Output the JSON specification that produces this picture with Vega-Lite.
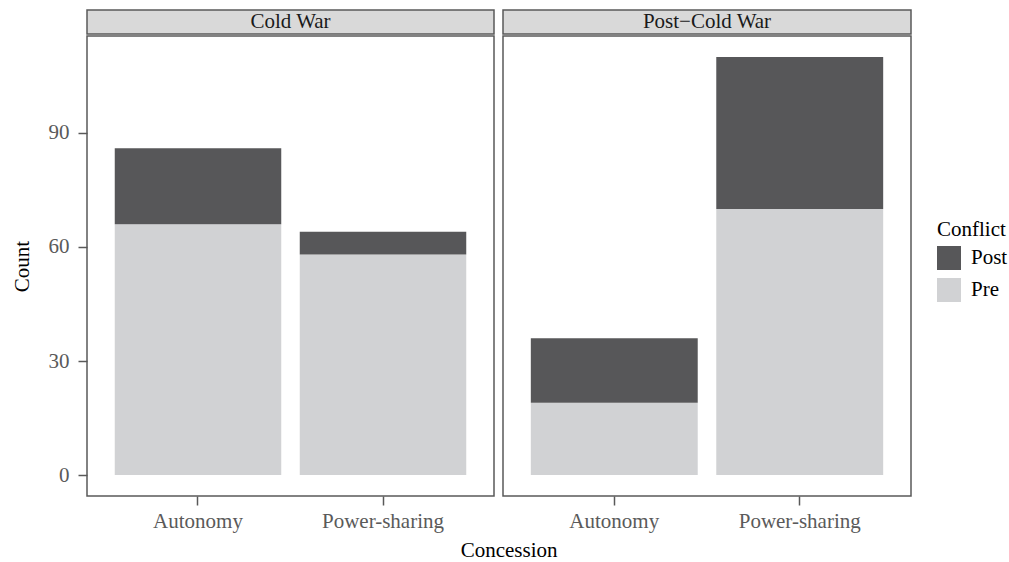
{
  "$schema": "https://vega.github.io/schema/vega-lite/v6.json",
  "padding": {"left": 10, "top": 9, "right": 5, "bottom": 5},
  "background": "white",
  "datasets": {
    "counts": [
      {"Era": "Cold War", "Concession": "Autonomy", "Conflict": "Pre", "Count": 66},
      {"Era": "Cold War", "Concession": "Autonomy", "Conflict": "Post", "Count": 20},
      {"Era": "Cold War", "Concession": "Power-sharing", "Conflict": "Pre", "Count": 58},
      {"Era": "Cold War", "Concession": "Power-sharing", "Conflict": "Post", "Count": 6},
      {"Era": "Post−Cold War", "Concession": "Autonomy", "Conflict": "Pre", "Count": 19},
      {"Era": "Post−Cold War", "Concession": "Autonomy", "Conflict": "Post", "Count": 17},
      {"Era": "Post−Cold War", "Concession": "Power-sharing", "Conflict": "Pre", "Count": 70},
      {"Era": "Post−Cold War", "Concession": "Power-sharing", "Conflict": "Post", "Count": 40}
    ]
  },
  "title": {"text": "Concession", "orient": "bottom", "anchor": "middle", "fontSize": 21, "font": "Liberation Serif", "fontWeight": "normal", "color": "#000000", "offset": 8},
  "hconcat": [
    {
      "spacing": 0,
      "vconcat": [
        {
          "width": 407, "height": 24,
          "data": {"values": [{"label": "Cold War"}]},
          "view": {"fill": "#d9d9d9", "stroke": "#595959", "strokeWidth": 1.5},
          "mark": {"type": "text", "font": "Liberation Serif", "fontSize": 21, "color": "#1a1a1a", "baseline": "middle", "align": "center"},
          "encoding": {"text": {"field": "label"}}
        },
        {
          "width": 407, "height": 460,
          "data": {"name": "counts"},
          "transform": [{"filter": "datum.Era === 'Cold War'"}],
          "view": {"stroke": "#595959", "strokeWidth": 1.5},
          "mark": {"type": "bar"},
          "encoding": {
            "x": {"field": "Concession", "type": "nominal", "scale": {"paddingInner": 0.1, "paddingOuter": 0.15}, "axis": {"title": null}},
            "y": {"field": "Count", "type": "quantitative", "stack": "zero", "scale": {"domain": [-5.5, 115.5], "nice": false, "zero": false}, "axis": {"title": "Count", "values": [0, 30, 60, 90]}},
            "color": {"field": "Conflict", "type": "nominal", "scale": {"domain": ["Post", "Pre"], "range": ["#575759", "#d1d2d4"]}, "legend": {"title": "Conflict"}},
            "order": {"field": "Conflict", "sort": "descending"}
          }
        }
      ]
    },
    {
      "spacing": 0,
      "vconcat": [
        {
          "width": 408, "height": 24,
          "data": {"values": [{"label": "Post−Cold War"}]},
          "view": {"fill": "#d9d9d9", "stroke": "#595959", "strokeWidth": 1.5},
          "mark": {"type": "text", "font": "Liberation Serif", "fontSize": 21, "color": "#1a1a1a", "baseline": "middle", "align": "center"},
          "encoding": {"text": {"field": "label"}}
        },
        {
          "width": 408, "height": 460,
          "data": {"name": "counts"},
          "transform": [{"filter": "datum.Era === 'Post−Cold War'"}],
          "view": {"stroke": "#595959", "strokeWidth": 1.5},
          "mark": {"type": "bar"},
          "encoding": {
            "x": {"field": "Concession", "type": "nominal", "scale": {"paddingInner": 0.1, "paddingOuter": 0.15}, "axis": {"title": null}},
            "y": {"field": "Count", "type": "quantitative", "stack": "zero", "scale": {"domain": [-5.5, 115.5], "nice": false, "zero": false}, "axis": null},
            "color": {"field": "Conflict", "type": "nominal", "scale": {"domain": ["Post", "Pre"], "range": ["#575759", "#d1d2d4"]}, "legend": {"title": "Conflict"}},
            "order": {"field": "Conflict", "sort": "descending"}
          }
        }
      ]
    }
  ],
  "spacing": 7,
  "resolve": {"scale": {"color": "shared"}},
  "config": {
    "font": "Liberation Serif",
    "axis": {
      "grid": false,
      "domain": false,
      "tickColor": "#595959",
      "tickWidth": 1.5,
      "tickSize": 9,
      "labelFont": "Liberation Serif",
      "labelFontSize": 21,
      "labelColor": "#5a5a5a",
      "labelPadding": 9,
      "titleFont": "Liberation Serif",
      "titleFontSize": 21,
      "titleFontWeight": "normal",
      "titleColor": "#000000",
      "titlePadding": 16
    },
    "axisX": {"labelAngle": 0, "labelPadding": 5},
    "legend": {
      "orient": "none",
      "legendX": 850,
      "legendY": 209,
      "padding": 0,
      "titleFont": "Liberation Serif",
      "titleFontSize": 21,
      "titleFontWeight": "normal",
      "titleColor": "#000000",
      "labelFont": "Liberation Serif",
      "labelFontSize": 21,
      "labelColor": "#000000",
      "symbolType": "square",
      "symbolSize": 576,
      "symbolStrokeWidth": 0,
      "symbolOpacity": 1,
      "rowPadding": 8,
      "labelOffset": 10,
      "titlePadding": 6
    }
  }
}
